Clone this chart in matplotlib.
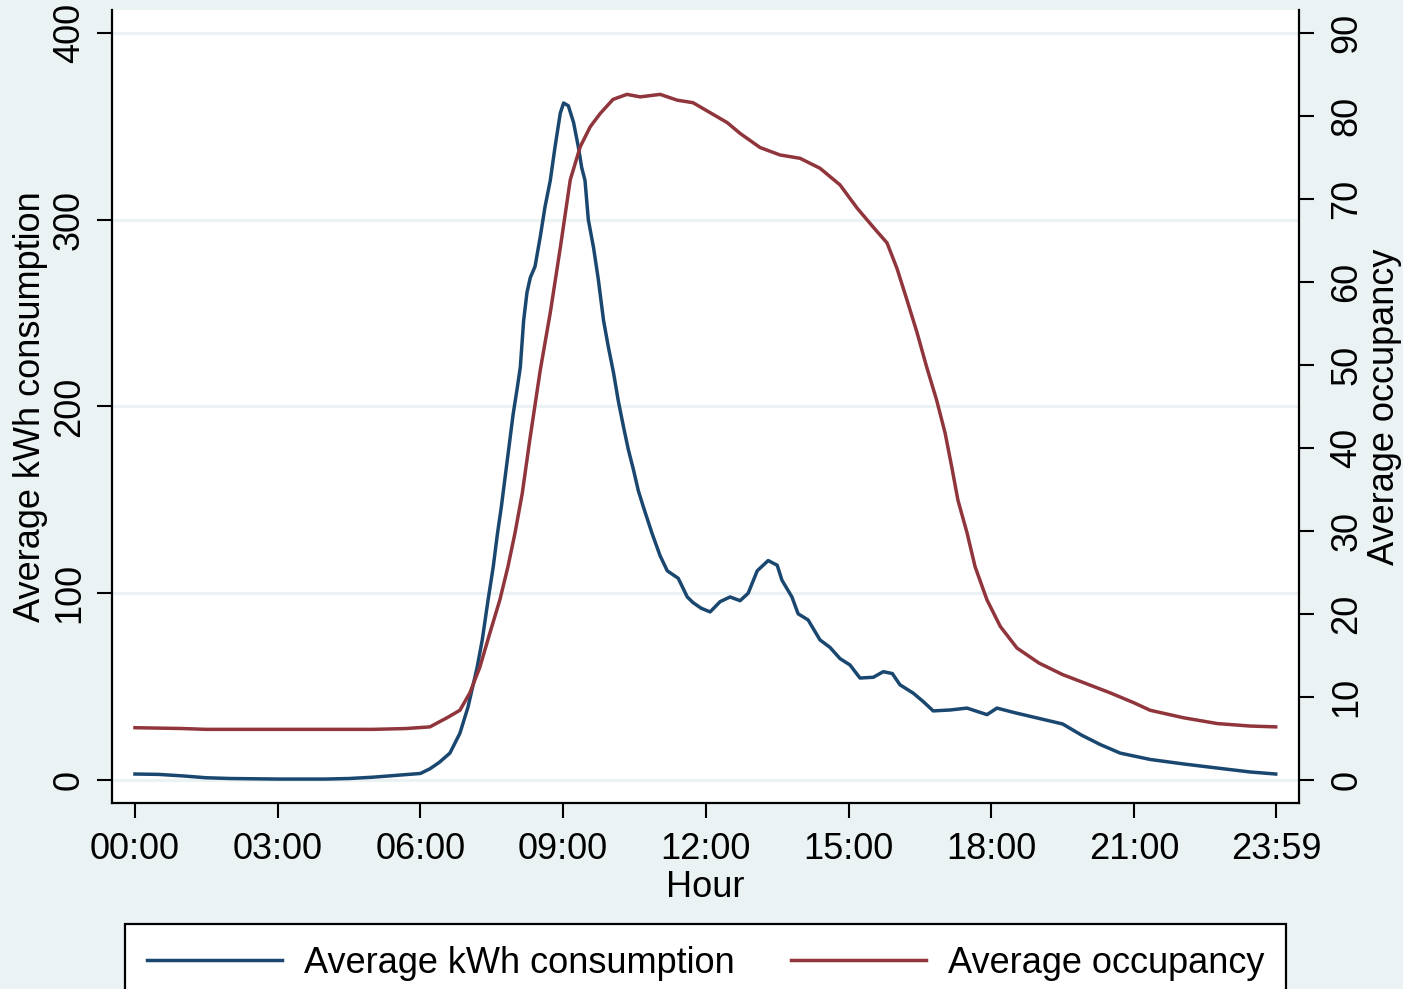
import matplotlib
matplotlib.use("Agg")
import matplotlib.pyplot as plt

plt.rcParams["font.family"] = ["Liberation Sans", "DejaVu Sans"]

# hour of day (decimal) -> average kWh consumption
kwh_hours = [0.0, 0.5, 1.0, 1.5, 2.0, 3.0, 4.0, 4.5, 5.0, 5.5, 6.0, 6.2, 6.4, 6.62,
             6.83, 7.0, 7.19, 7.3, 7.42, 7.53, 7.62, 7.70, 7.78, 7.88, 7.95, 8.03,
             8.10, 8.17, 8.24, 8.31, 8.41, 8.52, 8.62, 8.73, 8.83, 8.94, 9.01, 9.11,
             9.22, 9.32, 9.39, 9.46, 9.53, 9.64, 9.74, 9.85, 9.95, 10.06, 10.16,
             10.27, 10.37, 10.48, 10.58, 10.69, 10.87, 11.04, 11.19,
             11.42, 11.61, 11.73, 11.9, 12.09, 12.3, 12.51, 12.72, 12.89, 13.08, 13.31,
             13.5, 13.6, 13.81, 13.94, 14.15, 14.4, 14.61, 14.82, 15.03, 15.24, 15.52,
             15.73, 15.92, 16.08, 16.36, 16.57, 16.78, 17.14, 17.49, 17.91, 18.12,
             18.5, 19.0, 19.5, 19.9, 20.29, 20.71, 21.34, 22.04, 22.75, 23.44, 23.98]
kwh_values = [3.2, 3.0, 2.2, 1.2, 0.8, 0.5, 0.5, 0.8, 1.5, 2.5, 3.5, 6.0, 9.5, 14.4,
              25, 39, 60, 75, 96, 114, 132, 146, 162, 182, 196, 209,
              221, 246, 261, 269, 275, 291, 307, 321, 339, 357, 362.5, 361,
              352, 339, 328, 321, 300, 285, 268, 246, 232, 218, 203,
              189, 177, 166, 155, 146, 132, 120, 112,
              108, 98, 95, 92, 90, 95.5, 98, 96, 100, 112, 117.5,
              115, 107, 98, 89, 85.7, 75, 71, 65, 61.6, 54.6, 55,
              58, 57, 51, 46.5, 42, 37, 37.5, 38.5, 35, 38.5,
              36, 33, 30, 24, 19, 14.4, 11, 8.6, 6.4, 4.3, 3.2]

# hour of day (decimal) -> average occupancy
occ_hours = [0.0, 1.0, 1.5, 3.0, 5.0, 5.7, 6.2, 6.56, 6.83, 7.04, 7.25, 7.46, 7.67,
             7.84, 7.99, 8.14, 8.3, 8.52, 8.73, 8.94, 9.15, 9.36, 9.57, 9.78, 10.05,
             10.34, 10.62, 11.04, 11.4, 11.73, 12.09, 12.45, 12.72, 13.14, 13.56,
             13.98, 14.4, 14.82, 15.18, 15.52, 15.81, 16.02, 16.23, 16.44, 16.64,
             16.85, 17.03, 17.17, 17.3, 17.49, 17.66, 17.91, 18.19, 18.54, 19.0,
             19.5, 20.0, 20.5, 21.0, 21.34, 22.04, 22.75, 23.44, 23.98]
occ_values = [6.3, 6.2, 6.1, 6.1, 6.1, 6.2, 6.4, 7.5, 8.4, 10.5, 13.6, 17.7, 21.7,
              25.7, 29.8, 34.5, 41.0, 49.4, 56.3, 64.1, 72.3, 76.3, 78.7, 80.3, 82.0,
              82.6, 82.3, 82.6, 81.9, 81.6, 80.4, 79.2, 77.9, 76.2, 75.3,
              74.9, 73.7, 71.7, 68.9, 66.6, 64.7, 61.6, 57.8, 53.9, 49.8,
              45.8, 41.8, 37.7, 33.7, 29.8, 25.7, 21.7, 18.5, 15.9, 14.1,
              12.7, 11.6, 10.5, 9.3, 8.4, 7.5, 6.8, 6.5, 6.4]

xtick_hours = [0, 3, 6, 9, 12, 15, 18, 21, 23 + 59 / 60]
xtick_labels = ["00:00", "03:00", "06:00", "09:00", "12:00", "15:00", "18:00", "21:00", "23:59"]
kwh_ticks = [0, 100, 200, 300, 400]
occ_ticks = [0, 10, 20, 30, 40, 50, 60, 70, 80, 90]

bg = "#EAF2F3"
blue = "#1A476F"
red = "#90353B"
fs = 26
lw = 2.5

fig = plt.figure(figsize=(14.03, 9.89), dpi=100, facecolor=bg)
ax = fig.add_axes([0.0798, 0.1881, 0.8461, 0.8018])
ax2 = ax.twinx()

l1, = ax.plot(kwh_hours, kwh_values, color=blue, lw=lw, label="Average kWh consumption")
l2, = ax2.plot(occ_hours, occ_values, color=red, lw=lw, label="Average occupancy")

ax.set_xlim(-0.484, 24.47)
ax.set_ylim(-12.3, 412.3)
ax2.set_ylim(-12.3 * 0.225, 412.3 * 0.225)

ax.set_xticks(xtick_hours)
ax.set_xticklabels(xtick_labels)
ax.set_yticks(kwh_ticks)
ax2.set_yticks(occ_ticks)

ax.grid(axis="y", color=bg, lw=2.2)
ax.grid(axis="x", visible=False)
ax.set_axisbelow(True)

for a in (ax, ax2):
    a.spines["top"].set_visible(False)
    for s in a.spines.values():
        s.set_linewidth(1.6)
ax.spines["right"].set_visible(False)
ax2.spines["left"].set_visible(False)
ax2.spines["bottom"].set_visible(False)

ax.tick_params(axis="x", direction="out", length=11, width=1.5, labelsize=fs, pad=10)
ax.tick_params(axis="y", direction="out", length=11, width=1.5, labelsize=fs, pad=7, labelrotation=90)
ax2.tick_params(axis="y", direction="out", length=11, width=1.5, labelsize=fs, pad=11, labelrotation=90)
for t in ax.get_yticklabels() + ax2.get_yticklabels():
    t.set_va("center")

ax.set_xlabel("Hour", fontsize=fs, labelpad=2)
ax.set_ylabel("Average kWh consumption", fontsize=fs, labelpad=3)
ax2.set_ylabel("Average occupancy", fontsize=fs, labelpad=2, rotation=90)

leg = fig.legend([l1, l2], ["Average kWh consumption", "Average occupancy"],
                 loc="upper left", bbox_to_anchor=(125 / 1403, 0, (1286 - 125) / 1403, 1 - 924 / 989),
                 mode="expand", ncol=2, fontsize=fs, borderaxespad=0, borderpad=0.6,
                 handlelength=3.75, handletextpad=0.6, fancybox=False, framealpha=1)
leg.get_frame().set_edgecolor("black")
leg.get_frame().set_linewidth(1.6)
for line in leg.get_lines():
    line.set_linewidth(lw)

fig.savefig("out.png", dpi=100, facecolor=bg)
